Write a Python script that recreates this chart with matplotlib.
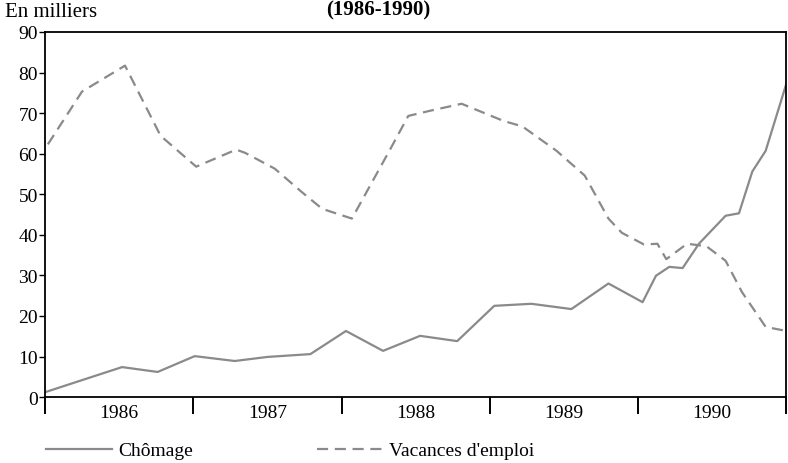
import matplotlib.pyplot as plt
from matplotlib.ticker import FixedLocator, NullFormatter

plt.rcParams['font.family'] = ['Liberation Serif', 'DejaVu Serif']

# Chômage (en milliers), temps en années décimales
chom_t = [1986.0, 1986.52, 1986.76, 1987.01, 1987.28, 1987.50, 1987.79,
          1988.03, 1988.28, 1988.53, 1988.78, 1989.03, 1989.28, 1989.55,
          1989.80, 1990.03, 1990.12, 1990.21, 1990.30, 1990.41, 1990.59,
          1990.68, 1990.77, 1990.86, 1991.0]
chom_v = [1.2, 7.4, 6.2, 10.1, 8.9, 9.9, 10.6,
          16.3, 11.4, 15.1, 13.8, 22.5, 23.0, 21.7,
          28.0, 23.4, 29.9, 32.1, 31.8, 37.8, 44.7,
          45.3, 55.6, 60.7, 77.3]

# Vacances d'emploi (en milliers)
vac_t = [1986.02, 1986.25, 1986.54, 1986.78, 1987.02, 1987.29, 1987.35,
         1987.55, 1987.73, 1987.87, 1988.07, 1988.33, 1988.45, 1988.60,
         1988.81, 1989.09, 1989.22, 1989.45, 1989.64, 1989.80, 1989.89,
         1990.04, 1990.13, 1990.19, 1990.33, 1990.46, 1990.59, 1990.70,
         1990.86, 1991.0]
vac_v = [62.3, 75.3, 81.7, 64.4, 56.8, 61.0, 60.2,
         56.3, 50.6, 46.4, 44.0, 61.2, 69.3, 70.6,
         72.3, 68.1, 66.7, 60.7, 54.6, 44.0, 40.5,
         37.6, 37.8, 34.0, 37.8, 37.2, 33.6, 25.9,
         17.3, 16.3]

years = [1986, 1987, 1988, 1989, 1990]
year_bounds = [1986, 1987, 1988, 1989, 1990, 1991]

fig = plt.figure(figsize=(7.88, 4.64), dpi=100)
ax = fig.add_axes([0.057, 0.142, 0.941, 0.787])

gray = '#8a8a8a'
ax.plot(chom_t, chom_v, color=gray, lw=1.6, label='Chômage')
ax.plot(vac_t, vac_v, color=gray, lw=1.6, ls=(0, (5, 3)), label="Vacances d'emploi")

ax.set_xlim(1986, 1991)
ax.set_ylim(0, 90)
ax.set_yticks(range(0, 91, 10))
ax.tick_params(axis='y', direction='out', length=4, width=1, labelsize=14, pad=1)

# repères d'années : traits aux bornes, libellés au milieu
ax.xaxis.set_major_locator(FixedLocator(year_bounds))
ax.xaxis.set_major_formatter(NullFormatter())
ax.xaxis.set_minor_locator(FixedLocator([y + 0.5 for y in years]))
ax.set_xticklabels([str(y) for y in years], minor=True)
ax.tick_params(axis='x', which='major', direction='out', length=12, width=1.4)
ax.tick_params(axis='x', which='minor', length=0, labelsize=14, pad=5)

for s in ax.spines.values():
    s.set_linewidth(1.3)

fig.text(0.006, 0.953, 'En milliers', fontsize=15, ha='left', va='bottom')
fig.text(0.48, 0.999, '(1986-1990)', fontsize=15, fontweight='bold',
         ha='center', va='top')

fig.legend(loc='lower left', bbox_to_anchor=(0.036, -0.03), ncol=2,
           frameon=False, fontsize=14, handlelength=3.4,
           columnspacing=6.4, handletextpad=0.3)

fig.savefig('out.png', dpi=100)
